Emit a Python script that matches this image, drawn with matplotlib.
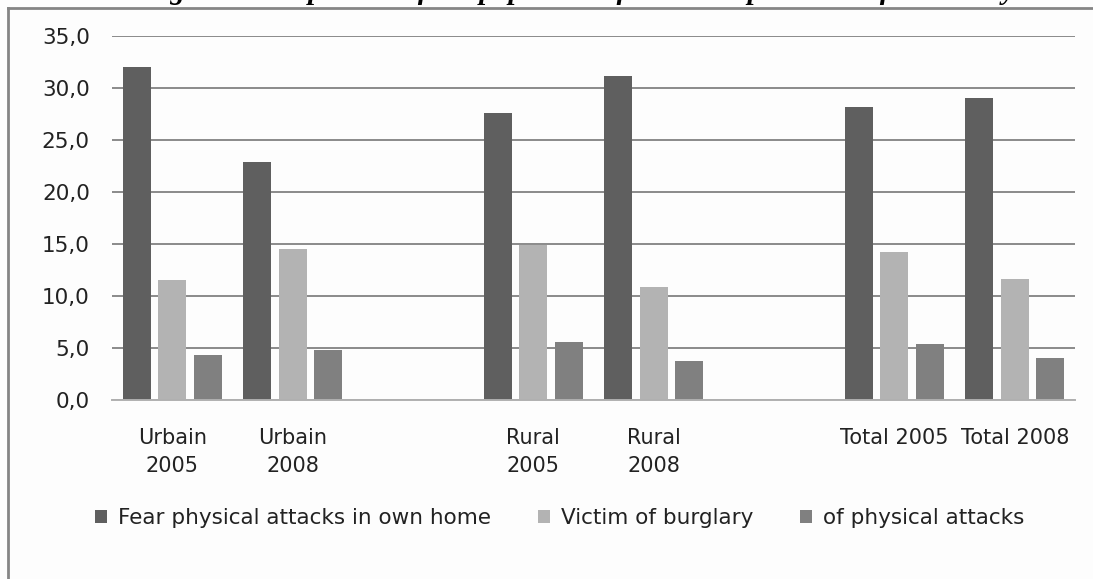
"""Insecurity indicators by area and year, grouped bar chart."""

import matplotlib
matplotlib.use("Agg")
import matplotlib.pyplot as plt
import numpy as np
from matplotlib.lines import Line2D

categories = ["Urbain\n2005", "Urbain\n2008", "", "Rural\n2005", "Rural\n2008", "", "Total 2005", "Total 2008"]
series_names = ["Fear physical attacks in own home", "Victim of burglary", "of physical attacks"]
fear = [32.0, 22.9, np.nan, 27.6, 31.2, np.nan, 28.2, 29.0]
burglary = [11.5, 14.5, np.nan, 14.9, 10.9, np.nan, 14.2, 11.6]
attacks = [4.3, 4.8, np.nan, 5.6, 3.7, np.nan, 5.4, 4.0]
yticks = [0, 5, 10, 15, 20, 25, 30, 35]

colors = ["#5f5f5f", "#b3b3b3", "#808080"]

fig = plt.figure(figsize=(10.93, 5.79), dpi=100)
fig.patch.set_facecolor("#fdfdfd")
ax = fig.add_axes([0.1025, 0.3092, 0.881, 0.6286])
ax.set_facecolor("#fdfdfd")

x = np.arange(len(categories))
width = 0.233
offset = 0.296
for i, (vals, name) in enumerate(zip([fear, burglary, attacks], series_names)):
    ax.bar(x + (i - 1) * offset, vals, width, color=colors[i], label=name, zorder=3)

ax.set_xlim(-0.5, len(categories) - 0.5)
ax.set_ylim(0, 35)
ax.set_yticks(yticks)
ax.set_yticklabels([f"{v:.1f}".replace(".", ",") for v in yticks], fontsize=15.5, color="#222222")
ax.yaxis.grid(True, color="#8a8a8a", linewidth=1.4, zorder=0)
ax.set_xticks(x)
ax.set_xticklabels(categories, fontsize=15, color="#222222", linespacing=1.5)
ax.tick_params(axis="both", length=0)
ax.tick_params(axis="y", pad=16)
ax.tick_params(axis="x", pad=20)
for side in ["top", "right", "left"]:
    ax.spines[side].set_visible(False)
ax.spines["bottom"].set_color("#b0b0b0")
ax.spines["bottom"].set_linewidth(1.4)
ax.spines["bottom"].set_zorder(4)

fig.legend(loc="center", bbox_to_anchor=(0.512, 0.105), ncol=3, frameon=False,
           fontsize=15.5, handlelength=0.55, handleheight=0.55, handletextpad=0.5,
           columnspacing=2.2, labelcolor="#222222")

# outer frame (left and top edges of the chart box)
fig.add_artist(Line2D([8 / 1093, 8 / 1093], [0, 1 - 8 / 579], color="#858585", linewidth=2,
                      transform=fig.transFigure))
fig.add_artist(Line2D([8 / 1093, 1], [1 - 8 / 579, 1 - 8 / 579], color="#858585", linewidth=2,
                      transform=fig.transFigure))

# title, cropped at the top of the image
fig.text(0.530, 1 + 1 / 579, "Figure 3: Proportion of the population faced with problems of insecurity",
         ha="center", va="baseline", fontsize=21, fontweight="bold", fontstyle="italic",
         family="Liberation Serif", color="#000000")

fig.savefig("out.png", dpi=100, facecolor=fig.get_facecolor())
